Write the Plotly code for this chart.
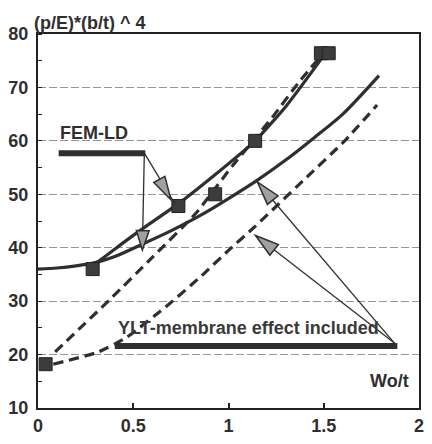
import math
import plotly.graph_objects as go

# ---------------- data ----------------
fem_x = [0.04, 0.287, 0.737, 0.93, 1.14, 1.485, 1.526]
fem_y = [18.2, 36.0, 47.8, 50.0, 60.0, 76.4, 76.4]

fem_line_x = [0.28, 0.32, 0.45, 0.55, 0.74, 0.90, 1.14, 1.30, 1.47, 1.50]
fem_line_y = [36.6, 37.5, 41.0, 43.6, 48.3, 52.8, 60.0, 66.4, 74.5, 76.0]

ylt_x = [0.0, 0.1, 0.2, 0.3, 0.4, 0.55, 0.7, 0.85, 1.0, 1.15, 1.3, 1.45, 1.6, 1.79]
ylt_y = [36.0, 36.2, 36.6, 37.2, 38.3, 40.7, 43.2, 46.0, 49.2, 52.6, 56.4, 60.6, 65.0, 72.2]

dash_up_x = [0.09, 0.38, 0.60, 0.83, 1.02, 1.23, 1.37, 1.50]
dash_up_y = [20.5, 30.4, 38.2, 46.5, 55.3, 64.4, 71.0, 76.5]

dash_lo_x = [0.08, 0.31, 0.46, 0.69, 0.86, 1.00, 1.14, 1.39, 1.61, 1.78]
dash_lo_y = [18.2, 20.4, 23.1, 29.5, 34.8, 39.5, 44.0, 52.5, 60.0, 66.7]

x_ticks = [0, 0.5, 1, 1.5, 2]
x_tick_text = ["0", "0.5", "1", "1.5", "2"]
y_ticks = [10, 20, 30, 40, 50, 60, 70, 80]
y_tick_text = ["10", "20", "30", "40", "50", "60", "70", "80"]

# ---------------- layout geometry ----------------
W, H = 432, 444
ML, MR, MT, MB = 37, 8, 34, 24
PW, PH = W - ML - MR, H - MT - MB
XR = (0, 2)
YR = (10, 80)


def dx(px):
    return XR[0] + (px - ML) / PW * (XR[1] - XR[0])


def dy(py):
    return YR[1] - (py - MT) / PH * (YR[1] - YR[0])


INK = "#2f2f2f"
FONT = "Liberation Sans, Arial, sans-serif"

fig = go.Figure()

fig.add_trace(go.Scatter(x=dash_lo_x, y=dash_lo_y, mode="lines",
                         line=dict(color=INK, width=3.2, dash="10px,6px", shape="spline", smoothing=0.5),
                         hoverinfo="skip", showlegend=False))
fig.add_trace(go.Scatter(x=dash_up_x, y=dash_up_y, mode="lines",
                         line=dict(color=INK, width=3.2, dash="10px,6px", shape="spline", smoothing=0.5),
                         hoverinfo="skip", showlegend=False))
fig.add_trace(go.Scatter(x=ylt_x, y=ylt_y, mode="lines",
                         line=dict(color=INK, width=3.2, shape="spline", smoothing=0.8),
                         hoverinfo="skip", showlegend=False))
fig.add_trace(go.Scatter(x=fem_line_x, y=fem_line_y, mode="lines",
                         line=dict(color=INK, width=3.2, shape="spline", smoothing=0.4),
                         hoverinfo="skip", showlegend=False))
fig.add_trace(go.Scatter(x=fem_x, y=fem_y, mode="markers",
                         marker=dict(symbol="square", size=13, color="#3c3c3c",
                                     line=dict(color="#222", width=1)),
                         hoverinfo="skip", showlegend=False))

shapes = []
annotations = []


def seg(p0, p1, width):
    shapes.append(dict(type="line", xref="x", yref="y",
                       x0=dx(p0[0]), y0=dy(p0[1]), x1=dx(p1[0]), y1=dy(p1[1]),
                       line=dict(color=INK, width=width)))


def head(tail, tip, L=22, hw=6.5):
    ux, uy = tip[0] - tail[0], tip[1] - tail[1]
    n = math.hypot(ux, uy)
    ux, uy = ux / n, uy / n
    bx, by = tip[0] - L * ux, tip[1] - L * uy
    nx, ny = -uy, ux
    pts = [tip, (bx + hw * nx, by + hw * ny), (bx - hw * nx, by - hw * ny)]
    path = "M {} {} L {} {} L {} {} Z".format(*[v for p in pts for v in (dx(p[0]), dy(p[1]))])
    shapes.append(dict(type="path", xref="x", yref="y", path=path,
                       fillcolor="#a0a0a0", line=dict(color=INK, width=1.5)))


# FEM-LD label, bar and arrows
fem_knee = (145, 157)
seg((58, 157), (146, 157), 6)
seg(fem_knee, (176, 209), 1.3)
seg(fem_knee, (143, 256), 1.3)
head(fem_knee, (172, 205), L=24, hw=6.5)
head(fem_knee, (143, 257), L=20, hw=6.5)

# YLT label, bar and arrows
ylt_knee = (399, 353)
seg((115, 356), (402, 356), 6)
seg(ylt_knee, (260, 187), 1.3)
seg(ylt_knee, (258, 242), 1.3)
head(ylt_knee, (260, 187), L=24, hw=7)
head(ylt_knee, (258, 242), L=24, hw=7)

annotations.append(dict(text="FEM-LD", x=dx(57), y=dy(136), xref="x", yref="y",
                        xanchor="left", yanchor="middle", showarrow=False,
                        font=dict(family=FONT, size=18, color=INK, weight="bold")))
annotations.append(dict(text="YLT-membrane effect included", x=dx(116), y=dy(337), xref="x", yref="y",
                        xanchor="left", yanchor="middle", showarrow=False,
                        font=dict(family=FONT, size=18, color="#3a3a3a", weight="bold")))
annotations.append(dict(text="Wo/t", x=dx(416), y=dy(392), xref="x", yref="y",
                        xanchor="right", yanchor="middle", showarrow=False,
                        font=dict(family=FONT, size=18, color=INK, weight="bold")))
annotations.append(dict(text="(p/E)*(b/t) ^ 4", x=(31 - ML) / PW, y=(PH + MT - 23) / PH,
                        xref="paper", yref="paper", xanchor="left", yanchor="middle",
                        showarrow=False,
                        font=dict(family=FONT, size=18, color=INK, weight="bold")))

fig.update_layout(
    width=W, height=H,
    margin=dict(l=ML, r=MR, t=MT, b=MB, pad=0),
    paper_bgcolor="white", plot_bgcolor="white",
    shapes=shapes, annotations=annotations,
    showlegend=False,
    font=dict(family=FONT, color=INK),
)
fig.update_xaxes(range=list(XR), tickvals=x_ticks, ticktext=x_tick_text,
                 showgrid=False, zeroline=False,
                 showline=True, linecolor="#222", linewidth=2, mirror=True,
                 ticks="inside", ticklen=5, tickcolor="#222", tickwidth=1.5,
                 tickfont=dict(family=FONT, size=18, color=INK, weight="bold"))
fig.update_yaxes(range=list(YR), tickvals=y_ticks, ticktext=y_tick_text,
                 showgrid=True, gridcolor="#959595", gridwidth=1, griddash="8px,3px",
                 zeroline=False,
                 showline=True, linecolor="#222", linewidth=2, mirror=True,
                 ticks="", ticklabelstandoff=4,
                 minor=dict(dtick=5, tick0=5, ticks="inside", ticklen=4, tickcolor="#222", showgrid=False),
                 tickfont=dict(family=FONT, size=18, color=INK, weight="bold"))

fig.write_html("out.html")
